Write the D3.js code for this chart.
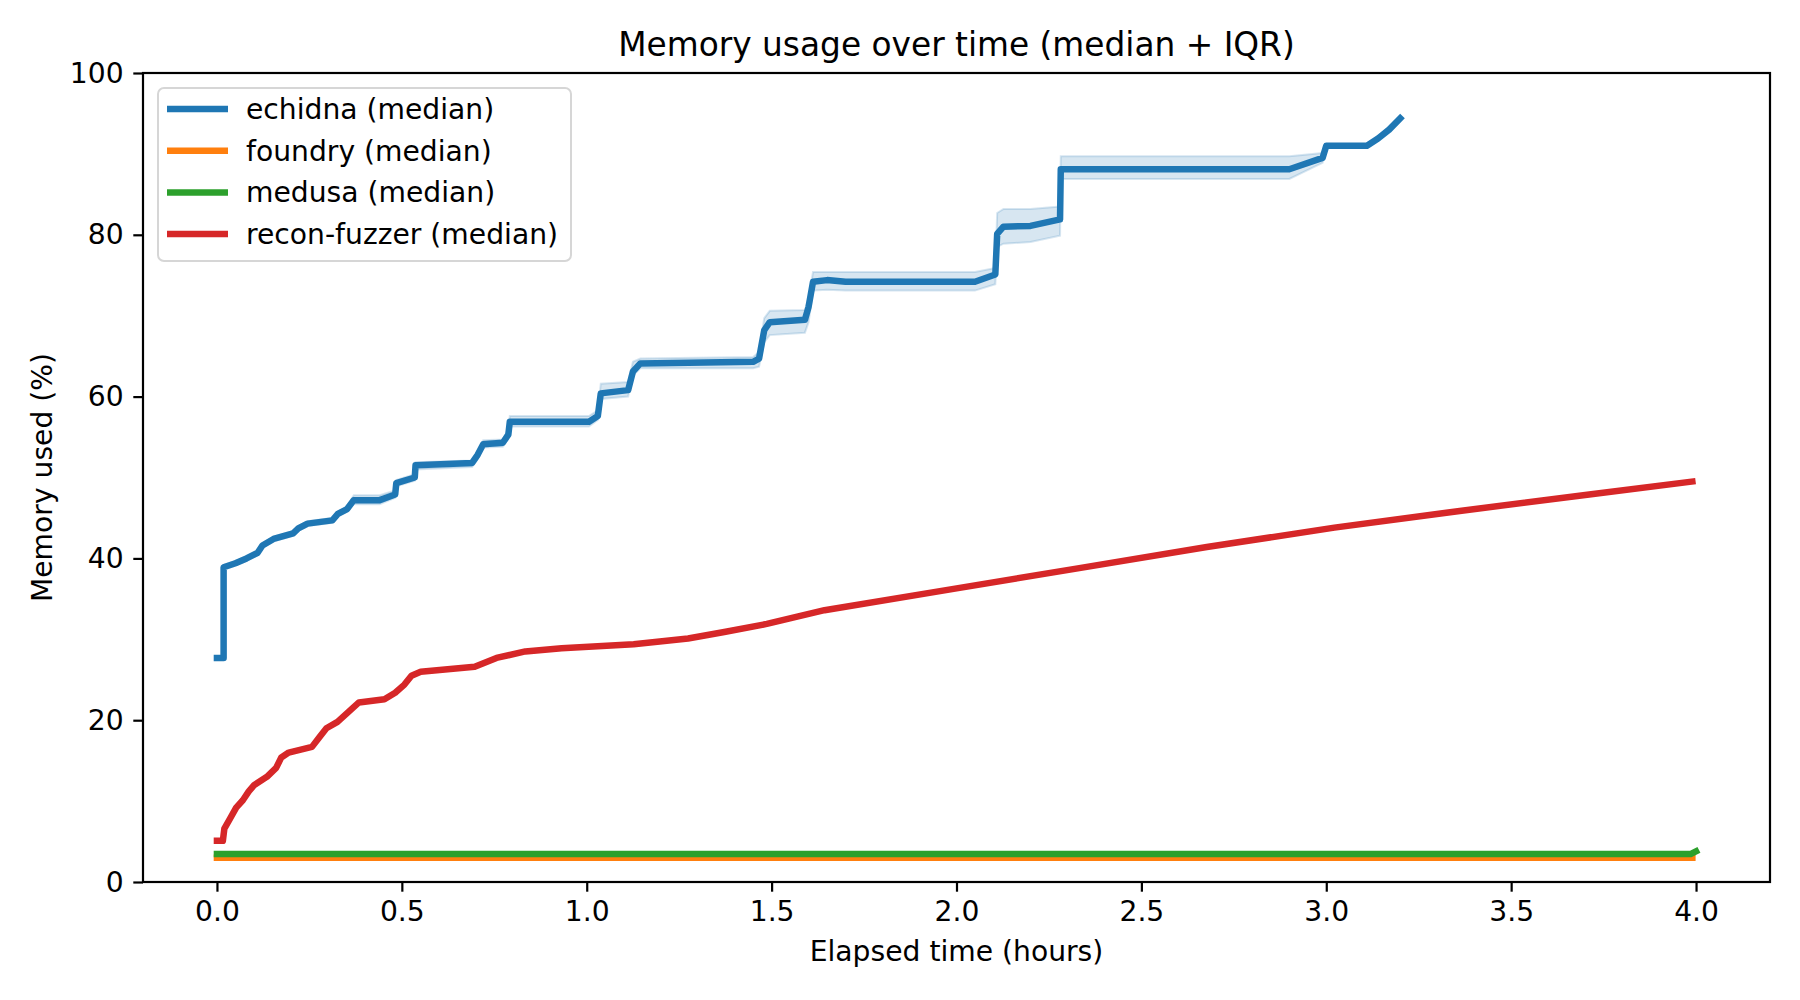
<!DOCTYPE html>
<html>
<head>
<meta charset="utf-8">
<script src="https://cdn.jsdelivr.net/npm/d3@7"></script>
<style>
  html, body { margin: 0; padding: 0; background: #ffffff; }
  svg { display: block; }
  text { font-family: "DejaVu Sans", sans-serif; fill: #000; }
</style>
</head>
<body>
<svg id="chart" width="1800" height="1000"></svg>
<script>
// ---------------- data ----------------
const xTicks = [0.0, 0.5, 1.0, 1.5, 2.0, 2.5, 3.0, 3.5, 4.0];
const yTicks = [0, 20, 40, 60, 80, 100];

const echidnaTime = [0, 0.018, 0.018, 0.05, 0.08, 0.11, 0.123, 0.153, 0.206, 0.22, 0.245, 0.312, 0.327, 0.352, 0.37, 0.44, 0.482, 0.485, 0.535, 0.537, 0.69, 0.705, 0.72, 0.773, 0.788, 0.792, 1.006, 1.03, 1.038, 1.112, 1.125, 1.145, 1.45, 1.466, 1.48, 1.495, 1.59, 1.6, 1.612, 1.65, 1.7, 2.05, 2.105, 2.11, 2.127, 2.2, 2.28, 2.282, 2.9, 2.99, 3.0, 3.11, 3.14, 3.17, 3.2];
const echidnaMedian = [27.7, 27.7, 38.9, 39.4, 40.0, 40.7, 41.6, 42.4, 43.1, 43.7, 44.3, 44.7, 45.5, 46.1, 47.2, 47.2, 47.9, 49.3, 50.0, 51.5, 51.8, 52.8, 54.1, 54.3, 55.3, 56.9, 56.9, 57.6, 60.4, 60.8, 63.1, 64.1, 64.3, 64.7, 68.2, 69.2, 69.5, 71.1, 74.2, 74.4, 74.2, 74.2, 75.1, 80.1, 81.0, 81.1, 81.9, 88.1, 88.1, 89.5, 91.0, 91.0, 91.9, 93.0, 94.4];
const echidnaQ1 = [27.5, 27.5, 38.6, 39.1, 39.7, 40.4, 41.3, 42.1, 42.8, 43.4, 44.0, 44.4, 45.2, 45.8, 46.7, 46.7, 47.5, 48.9, 49.6, 51.0, 51.3, 52.3, 53.7, 53.8, 54.8, 56.3, 56.3, 57.1, 59.7, 60.0, 62.6, 63.5, 63.5, 63.7, 66.7, 67.6, 67.9, 69.2, 73.1, 73.2, 73.1, 73.1, 73.9, 78.5, 78.9, 79.1, 79.9, 86.9, 86.9, 88.9, 91.0, 91.0, 91.9, 93.0, 94.4];
const echidnaQ3 = [27.9, 27.9, 39.2, 39.7, 40.3, 41.0, 41.9, 42.7, 43.4, 44.0, 44.6, 45.0, 45.8, 46.4, 47.8, 47.8, 48.4, 49.7, 50.4, 51.9, 52.1, 53.2, 54.6, 54.7, 56.0, 57.6, 57.6, 58.3, 61.6, 61.8, 64.3, 64.7, 64.9, 65.5, 69.7, 70.6, 70.7, 72.2, 75.4, 75.4, 75.4, 75.4, 75.9, 82.7, 83.2, 83.2, 83.5, 89.7, 89.7, 90.1, 91.0, 91.0, 91.9, 93.0, 94.4];

const foundryTime = [0, 3.99];
const foundryMedian = [3.0, 3.0];

const medusaTime = [0, 3.985, 4.0];
const medusaMedian = [3.45, 3.45, 3.8];

const reconTime = [0, 0.016, 0.02, 0.035, 0.052, 0.07, 0.086, 0.101, 0.135, 0.16, 0.174, 0.194, 0.257, 0.277, 0.296, 0.326, 0.355, 0.384, 0.453, 0.482, 0.507, 0.526, 0.551, 0.697, 0.756, 0.834, 0.932, 1.127, 1.274, 1.372, 1.487, 1.643, 1.988, 2.332, 2.677, 3.022, 3.366, 3.711, 3.99];
const reconMedian = [5.1, 5.1, 6.6, 7.8, 9.2, 10.1, 11.2, 12.0, 13.0, 14.1, 15.4, 16.0, 16.7, 17.9, 19.0, 19.8, 21.0, 22.2, 22.6, 23.4, 24.4, 25.5, 26.0, 26.6, 27.7, 28.5, 28.9, 29.4, 30.1, 30.9, 31.9, 33.6, 36.2, 38.8, 41.4, 43.8, 45.9, 47.9, 49.5];

const seriesNames = ["echidna (median)", "foundry (median)", "medusa (median)", "recon-fuzzer (median)"];
const seriesColors = ["#1f77b4", "#ff7f0e", "#2ca02c", "#d62728"];

// ---------------- layout ----------------
const svg = d3.select("#chart");
const L = 143, R = 1770, T = 73, B = 882;
const FS = 28.2;

const x = d3.scaleLinear().domain([-0.2, 4.2]).range([L, R]);
const y = d3.scaleLinear().domain([0, 100]).range([B, T]);

const zip = (t, v) => t.map((d, i) => ({ t: d, v: v[i] }));

svg.append("defs").append("clipPath").attr("id", "plotclip")
  .append("rect").attr("x", L).attr("y", T).attr("width", R - L).attr("height", B - T);

const plot = svg.append("g").attr("clip-path", "url(#plotclip)");

// IQR band for echidna
const bandData = echidnaTime.map((t, i) => ({ t, lo: echidnaQ1[i], hi: echidnaQ3[i] }));
const area = d3.area().x(d => x(d.t)).y0(d => y(d.lo)).y1(d => y(d.hi));
plot.append("path").datum(bandData).attr("d", area)
  .attr("fill", seriesColors[0]).attr("fill-opacity", 0.18)
  .attr("stroke", seriesColors[0]).attr("stroke-opacity", 0.18).attr("stroke-width", 2);

const line = d3.line().x(d => x(d.t)).y(d => y(d.v));
const LW = 6.5;
const lines = [
  zip(echidnaTime, echidnaMedian),
  zip(foundryTime, foundryMedian),
  zip(medusaTime, medusaMedian),
  zip(reconTime, reconMedian)
];
lines.forEach((data, i) => {
  plot.append("path").datum(data).attr("d", line)
    .attr("fill", "none").attr("stroke", seriesColors[i])
    .attr("stroke-width", LW).attr("stroke-linecap", "square").attr("stroke-linejoin", "round");
});

// ---------------- axes ----------------
const xAxis = d3.axisBottom(x).tickValues(xTicks).tickFormat(d3.format(".1f"))
  .tickSize(9.7).tickPadding(9.7).tickSizeOuter(0);
const gx = svg.append("g").attr("transform", `translate(0,${B})`).call(xAxis);
gx.select(".domain").remove();
gx.selectAll("line").attr("stroke", "#000").attr("stroke-width", 2.2);
gx.selectAll("text").attr("font-size", FS).attr("font-family", "DejaVu Sans");

const yAxis = d3.axisLeft(y).tickValues(yTicks).tickFormat(d3.format("d"))
  .tickSize(9.7).tickPadding(9.7).tickSizeOuter(0);
const gy = svg.append("g").attr("transform", `translate(${L},0)`).call(yAxis);
gy.select(".domain").remove();
gy.selectAll("line").attr("stroke", "#000").attr("stroke-width", 2.2);
gy.selectAll("text").attr("font-size", FS).attr("font-family", "DejaVu Sans");

// frame
svg.append("rect").attr("x", L).attr("y", T).attr("width", R - L).attr("height", B - T)
  .attr("fill", "none").attr("stroke", "#000").attr("stroke-width", 2.2);

// labels
svg.append("text").attr("x", (L + R) / 2).attr("y", 56).attr("text-anchor", "middle")
  .attr("font-size", 32.8).text("Memory usage over time (median + IQR)");
svg.append("text").attr("x", (L + R) / 2).attr("y", 961).attr("text-anchor", "middle")
  .attr("font-size", FS).text("Elapsed time (hours)");
svg.append("text").attr("transform", `translate(52,${(T + B) / 2}) rotate(-90)`)
  .attr("text-anchor", "middle").attr("font-size", FS).text("Memory used (%)");

// ---------------- legend ----------------
const lg = svg.append("g");
lg.append("rect").attr("x", 158).attr("y", 88).attr("width", 413).attr("height", 173)
  .attr("rx", 6).attr("ry", 6)
  .attr("fill", "#ffffff").attr("fill-opacity", 0.8)
  .attr("stroke", "#d6d6d6").attr("stroke-width", 2);
seriesNames.forEach((name, i) => {
  const cy = 109 + i * 41.7;
  lg.append("line").attr("x1", 167).attr("x2", 228).attr("y1", cy).attr("y2", cy)
    .attr("stroke", seriesColors[i]).attr("stroke-width", LW);
  lg.append("text").attr("x", 246).attr("y", cy).attr("dy", "0.35em")
    .attr("font-size", FS).text(name);
});
</script>
</body>
</html>
